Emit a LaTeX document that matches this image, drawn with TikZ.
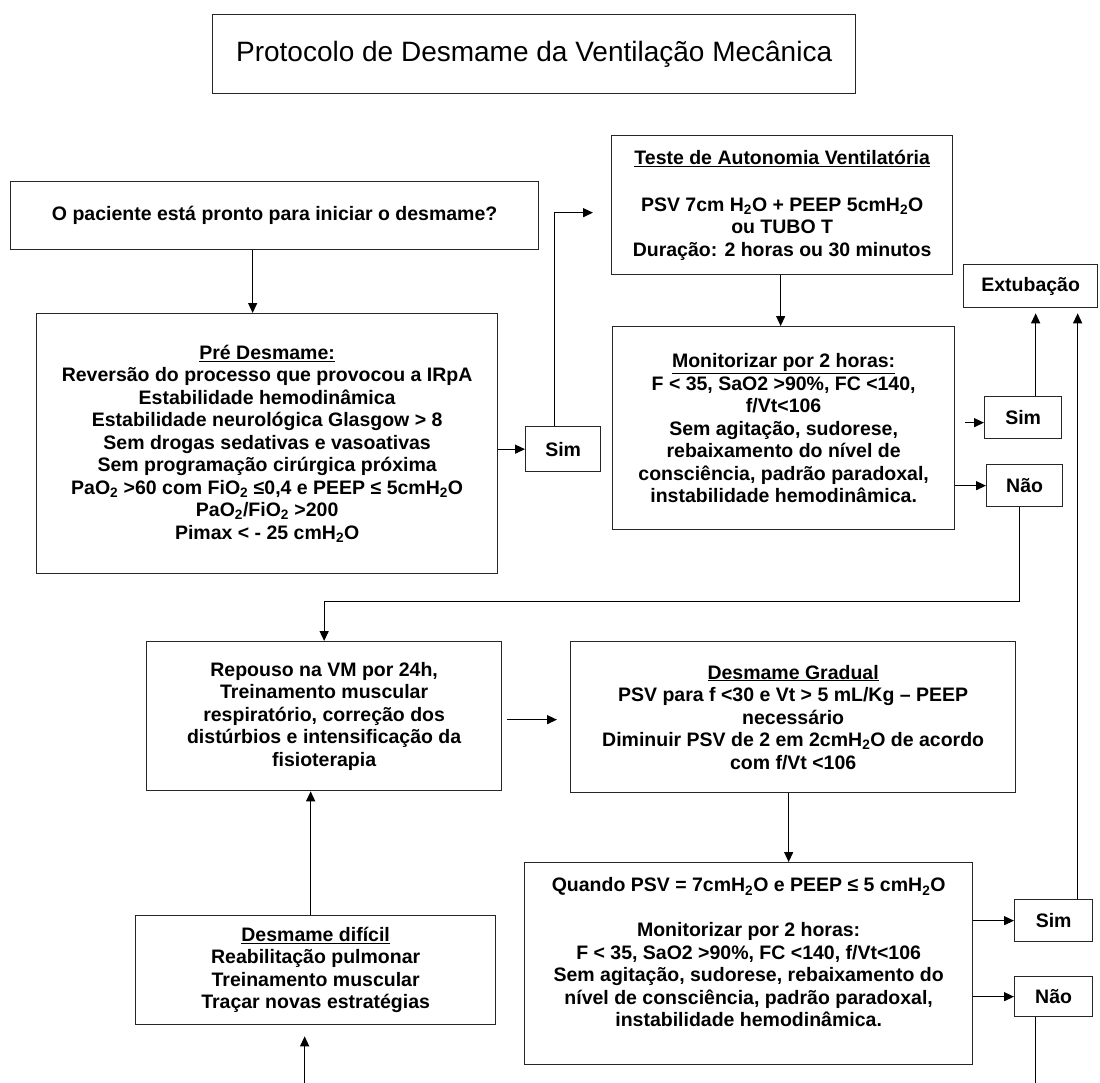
\documentclass[tikz,border=0pt]{standalone}
\usepackage{fontspec}
\setmainfont{Liberation Sans}
\usepackage{tikz}
\usetikzlibrary{calc,arrows.meta}

\newcommand{\baixo}[1]{\textsubscript{#1}}

\begin{document}
\begin{tikzpicture}[>={Stealth[length=10pt,width=9pt,inset=0pt]}, x=1pt, y=-1pt,
    line width=1.3pt,
    caixa/.style={draw=black!85, anchor=north west, align=center, inner sep=0pt,
                  font=\fontsize{19.5}{22.5}\selectfont\bfseries}]
\useasboundingbox (0,0) rectangle (1100,1082);

    \node[caixa, minimum width=643, minimum height=79,
          font=\fontsize{28}{32}\selectfont] (titulo) at (212,14)
          {Protocolo de Desmame da Ventilação Mecânica};

    \node[caixa, minimum width=528, minimum height=68] (pergunta) at (10,181)
          {O paciente está pronto para iniciar o desmame?};
    \node[caixa, minimum width=461, minimum height=260] (predesmame) at (36,313)
          {\underline{Pré Desmame:}\\
           Reversão do processo que provocou a IRpA\\
           Estabilidade hemodinâmica\\
           Estabilidade neurológica Glasgow > 8\\
           Sem drogas sedativas e vasoativas\\
           Sem programação cirúrgica próxima\\
           PaO\baixo{2} >60 com FiO\baixo{2} ≤0,4 e PEEP ≤ 5cmH\baixo{2}O\\
           PaO\baixo{2}/FiO\baixo{2} >200\\
           Pimax < - 25 cmH\baixo{2}O};
    \node[caixa, minimum width=75, minimum height=45] (sim1) at (525,426) {Sim};

    \node[caixa, minimum width=341, minimum height=139] (teste) at (611,135)
          {\underline{Teste de Autonomia Ventilatória}\\[24pt]
           PSV 7cm H\baixo{2}O + PEEP 5cmH\baixo{2}O\\
           ou TUBO T\\
           Duração: 2 horas ou 30 minutos};
    \node[caixa, minimum width=342, minimum height=203] (monit1) at (612,326)
          {\underline{Monitorizar por 2 horas:}\\
           F < 35, SaO2 >90\%, FC <140,\\
           f/Vt<106\\
           Sem agitação, sudorese,\\
           rebaixamento do nível de\\
           consciência, padrão paradoxal,\\
           instabilidade hemodinâmica.};
    \node[caixa, minimum width=134, minimum height=43] (extubacao) at (963,264) {Extubação};
    \node[caixa, minimum width=77, minimum height=42] (sim2) at (984,396) {Sim};
    \node[caixa, minimum width=76, minimum height=42] (nao1) at (986,464) {Não};

    \node[caixa, minimum width=355, minimum height=149] (repouso) at (146,641)
          {Repouso na VM por 24h,\\
           Treinamento muscular\\
           respiratório, correção dos\\
           distúrbios e intensificação da\\
           fisioterapia};
    \node[caixa, minimum width=445, minimum height=151] (gradual) at (570,641)
          {\underline{Desmame Gradual}\\
           PSV para f <30 e Vt > 5 mL/Kg – PEEP\\
           necessário\\
           Diminuir PSV de 2 em 2cmH\baixo{2}O de acordo\\
           com f/Vt <106};
    \node[caixa, minimum width=448, minimum height=202] (monit2) at (524,862)
          {Quando PSV = 7cmH\baixo{2}O e PEEP ≤ 5 cmH\baixo{2}O\\[22.5pt]
           Monitorizar por 2 horas:\\
           F < 35, SaO2 >90\%, FC <140, f/Vt<106\\
           Sem agitação, sudorese, rebaixamento do\\
           nível de consciência, padrão paradoxal,\\
           instabilidade hemodinâmica.\\ ~};
    \node[caixa, minimum width=78, minimum height=42] (sim3) at (1014,899) {Sim};
    \node[caixa, minimum width=78, minimum height=40] (nao2) at (1014,976) {Não};
    \node[caixa, minimum width=360, minimum height=109] (dificil) at (135,915)
          {\underline{Desmame difícil}\\
           Reabilitação pulmonar\\
           Treinamento muscular\\
           Traçar novas estratégias};

    \draw[->] ($(pergunta.south)+(-22,0)$) -- ($(pergunta.south |- predesmame.north)+(-22,0)$);
    \draw[->] (predesmame.east |- sim1.west) -- (sim1.west);
    \draw[->] ($(sim1.north)+(-8.5,0)$) |- ($(teste.west)+(-18,7.5)$);
    \draw[->] ($(teste.south)+(-1.5,0)$) -- ($(teste.south |- monit1.north)+(-1.5,0)$);
    \draw[->] ($(monit1.east |- sim2.west)+(10,5)$) -- ($(sim2.west)+(0,5)$);
    \draw[->] (monit1.east |- nao1.west) -- (nao1.west);
    \draw[->] ($(sim2.north)+(12.5,0)$) -- ($(sim2.north |- extubacao.south)+(12.5,5)$);
    \draw[->] ($(sim3.north)+(24,0)$) -- ($(sim3.north |- extubacao.south)+(24,5)$);
    \draw[->] ($(nao1.south)+(-5,0)$) -- ++(0,94) -| (repouso.north);
    \draw[->] ($(repouso.east)+(5,3.5)$) -- ($(repouso.east -| gradual.west)+(-13,3.5)$);
    \draw[->] ($(gradual.south)+(-4.5,0)$) -- ($(gradual.south |- monit2.north)+(-4.5,0)$);
    \draw[->] (monit2.east |- sim3.west) -- (sim3.west);
    \draw[->] (monit2.east |- nao2.west) -- (nao2.west);
    \draw ($(nao2.south)+(-18,0)$) -- ++(0,66);
    \draw[->] ($(dificil.south)+(-11,58)$) -- ($(dificil.south)+(-11,11)$);
    \draw[->] ($(dificil.north)+(-5,0)$) -- ($(dificil.north |- repouso.south)+(-5,0)$);
\end{tikzpicture}
\end{document}
